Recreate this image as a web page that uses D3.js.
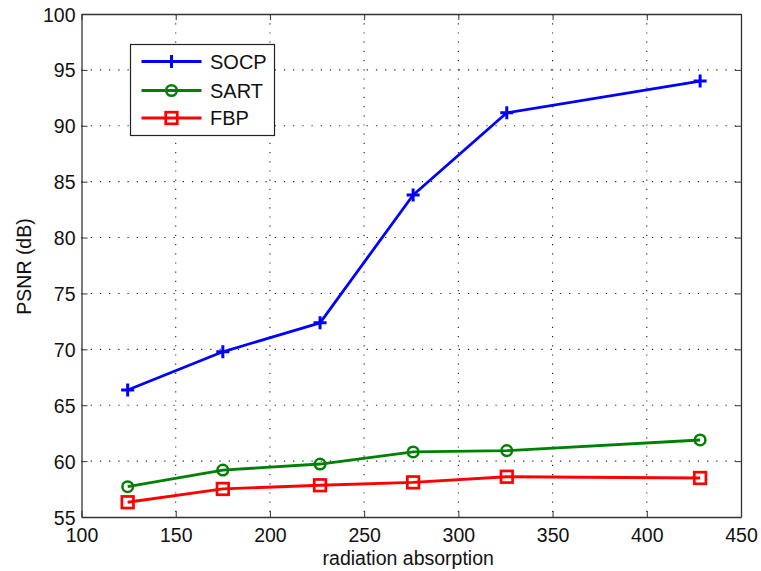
<!DOCTYPE html>
<html>
<head>
<meta charset="utf-8">
<script src="https://cdn.jsdelivr.net/npm/d3@7"></script>
<style>
  html, body { margin: 0; padding: 0; background: #fff; }
  svg { display: block; }
  text { font-family: "Liberation Sans", Arial, sans-serif; fill: #111; }
</style>
</head>
<body>
<svg id="chart" width="761" height="571"></svg>
<script>
// Radiation absorption levels (x) and PSNR results for each method
const absorption = [124.5, 175, 226.6, 276, 325.7, 428.3];
const socp = [66.36, 69.78, 72.37, 83.81, 91.16, 94.0];
const sart = [57.71, 59.2, 59.74, 60.82, 60.94, 61.89];
const fbp  = [56.32, 57.51, 57.84, 58.1, 58.6, 58.49];

const xTicks = [100, 150, 200, 250, 300, 350, 400, 450];
const yTicks = [55, 60, 65, 70, 75, 80, 85, 90, 95, 100];

const seriesNames = ["SOCP", "SART", "FBP"];
const seriesColors = ["#0000ff", "#008000", "#ff0000"];
const seriesMarkers = ["plus", "circle", "square"];
const seriesValues = [socp, sart, fbp];

const svg = d3.select("#chart");
const plotLeft = 81.5, plotRight = 741, plotTop = 14, plotBottom = 517;

const x = d3.scaleLinear().domain([100, 450]).range([plotLeft, plotRight]);
const y = d3.scaleLinear().domain([55, 100]).range([plotBottom, plotTop]);

// Dotted grid
const grid = svg.append("g");
grid.selectAll("line.vx").data(xTicks.slice(1, -1)).enter().append("line")
  .attr("x1", d => x(d)).attr("x2", d => x(d))
  .attr("y1", plotTop).attr("y2", plotBottom)
  .attr("stroke", "#222").attr("stroke-width", 1.1)
  .attr("stroke-dasharray", "1.2,8");
grid.selectAll("line.hy").data(yTicks.slice(1, -1)).enter().append("line")
  .attr("x1", plotLeft).attr("x2", plotRight)
  .attr("y1", d => y(d)).attr("y2", d => y(d))
  .attr("stroke", "#222").attr("stroke-width", 1.1)
  .attr("stroke-dasharray", "1.2,8");

// Axes: ticks pointing inward on all four sides
const tickLen = 6;
const axB = svg.append("g").attr("transform", `translate(0,${plotBottom})`)
  .call(d3.axisBottom(x).tickValues(xTicks).tickSizeInner(-tickLen).tickSizeOuter(0).tickPadding(11));
const axT = svg.append("g").attr("transform", `translate(0,${plotTop})`)
  .call(d3.axisTop(x).tickValues(xTicks).tickSizeInner(-tickLen).tickSizeOuter(0).tickFormat(""));
const axL = svg.append("g").attr("transform", `translate(${plotLeft},0)`)
  .call(d3.axisLeft(y).tickValues(yTicks).tickSizeInner(-tickLen).tickSizeOuter(0).tickPadding(6));
const axR = svg.append("g").attr("transform", `translate(${plotRight},0)`)
  .call(d3.axisRight(y).tickValues(yTicks).tickSizeInner(-tickLen).tickSizeOuter(0).tickFormat(""));

[axB, axT, axL, axR].forEach(g => {
  g.select(".domain").attr("stroke", "#333").attr("stroke-width", 1.3);
  g.selectAll(".tick line").attr("stroke", "#333").attr("stroke-width", 1);
  g.selectAll(".tick text").attr("font-size", 19.5)
    .attr("font-family", "Liberation Sans, Arial, sans-serif").attr("fill", "#111");
});
axB.selectAll(".tick text").attr("dy", "0.71em");
axL.selectAll(".tick text").attr("dy", "0.36em");

// Axis titles
svg.append("text").attr("x", (plotLeft + plotRight) / 2 - 3).attr("y", 565)
  .attr("text-anchor", "middle").attr("font-size", 19.5).text("radiation absorption");
svg.append("text").attr("transform", `translate(31,${(plotTop + plotBottom) / 2 + 1}) rotate(-90)`)
  .attr("text-anchor", "middle").attr("font-size", 19.5).text("PSNR (dB)");

function drawMarker(g, type, cx, cy, color) {
  if (type === "plus") {
    g.append("path").attr("d", `M${cx - 6.5},${cy}H${cx + 6.5}M${cx},${cy - 6.5}V${cy + 6.5}`)
      .attr("stroke", color).attr("stroke-width", 3).attr("fill", "none");
  } else if (type === "circle") {
    g.append("circle").attr("cx", cx).attr("cy", cy).attr("r", 5.3)
      .attr("stroke", color).attr("stroke-width", 2.5).attr("fill", "none");
  } else {
    g.append("rect").attr("x", cx - 5.8).attr("y", cy - 5.8).attr("width", 11.6).attr("height", 11.6)
      .attr("stroke", color).attr("stroke-width", 2.7).attr("fill", "none");
  }
}

// Series lines and markers
const line = d3.line().x((d, i) => x(absorption[i])).y(d => y(d));
seriesValues.forEach((vals, s) => {
  const g = svg.append("g");
  g.append("path").datum(vals).attr("d", line)
    .attr("fill", "none").attr("stroke", seriesColors[s]).attr("stroke-width", 2.8)
    .attr("stroke-linejoin", "round");
  vals.forEach((v, i) => drawMarker(g, seriesMarkers[s], x(absorption[i]), y(v), seriesColors[s]));
});

// Legend
const lg = svg.append("g");
lg.append("rect").attr("x", 130.5).attr("y", 44.5).attr("width", 144).attr("height", 91)
  .attr("fill", "#fff").attr("stroke", "#222").attr("stroke-width", 1.2);
const rowY = [61.5, 90.5, 118];
seriesNames.forEach((name, s) => {
  lg.append("line").attr("x1", 141.5).attr("x2", 201.5).attr("y1", rowY[s]).attr("y2", rowY[s])
    .attr("stroke", seriesColors[s]).attr("stroke-width", 2.8);
  drawMarker(lg, seriesMarkers[s], 171.5, rowY[s], seriesColors[s]);
  lg.append("text").attr("x", 210).attr("y", rowY[s]).attr("dy", "0.36em")
    .attr("font-size", 20).text(name);
});
</script>
</body>
</html>
